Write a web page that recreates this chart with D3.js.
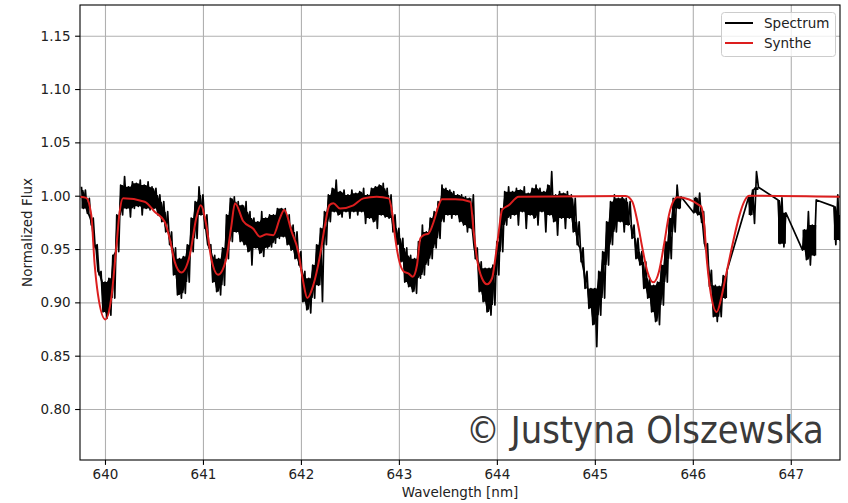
<!DOCTYPE html>
<html>
<head>
<meta charset="utf-8">
<script src="https://cdn.jsdelivr.net/npm/d3@7"></script>
<style>
  body { margin: 0; background: #fff; }
  svg text { font-family: "DejaVu Sans", sans-serif; }
</style>
</head>
<body>
<svg id="chart" width="848" height="503"></svg>
<script>
// Axis ticks and limits (wavelength in nm, normalized flux)
const xTicks = [640, 641, 642, 643, 644, 645, 646, 647];
const yTicks = [0.80, 0.85, 0.90, 0.95, 1.00, 1.05, 1.10, 1.15];
const xDomain = [639.745, 647.5025];
const yDomain = [0.7522, 1.1788];

// Observed spectrum: contiguous chunks sampled every 0.02 nm
const specStep = 0.02;
const specStart = [639.76, 646.01, 646.57, 646.87, 647.12, 647.44];
const specFlux = [
  [1.0084,0.988,1.0053,0.9835,0.9975,0.9725,0.979,0.951,0.954,0.9257,
   0.929,0.891,0.919,0.885,0.9226,0.888,0.944,0.904,0.982,0.9475,
   1.010,0.982,1.018,0.988,1.0084,0.980,1.013,0.988,1.0116,0.990,
   1.0147,0.982,1.010,0.988,1.013,0.9866,1.0084,0.988,1.007,0.982,
   1.0007,0.9756,0.9944,0.966,0.985,0.954,0.966,0.9257,0.951,0.907,
   0.941,0.904,0.943,0.9085,0.954,0.919,0.979,0.9475,0.9944,0.960,
   1.0084,0.982,1.0007,0.9694,0.982,0.951,0.954,0.919,0.944,0.910,
   0.941,0.907,0.951,0.916,0.982,0.941,0.9975,0.957,0.999,0.966,
   0.9944,0.957,0.991,0.954,0.9944,0.9475,0.985,0.935,0.979,0.951,
   0.9756,0.946,0.985,0.943,0.979,0.951,0.982,0.952,0.982,0.9554,
   0.988,0.960,0.988,0.9616,0.988,0.954,0.982,0.949,0.9725,0.941,
   0.966,0.935,0.9475,0.9006,0.929,0.893,0.9226,0.890,0.935,0.904,
   0.954,0.916,0.9694,0.9006,0.985,0.954,1.0007,0.9756,1.007,0.985,
   1.0147,0.982,1.0038,0.980,1.0053,0.985,1.0007,0.979,1.0053,0.985,
   1.0022,0.982,1.0038,0.985,1.007,0.974,1.0007,0.979,1.007,0.9756,
   1.0084,0.9694,1.010,0.982,1.0116,0.980,1.007,0.979,1.0007,0.966,
   0.982,0.954,0.9694,0.938,0.960,0.919,0.951,0.9147,0.944,0.910,
   0.941,0.9085,0.957,0.9226,0.9725,0.9257,0.966,0.935,0.979,0.941,
   0.985,0.951,0.9944,0.960,1.010,0.9756,1.007,0.982,1.0053,0.979,
   1.0038,0.982,1.0007,0.9756,1.0007,0.9725,0.999,0.966,0.9975,0.9694,
   1.0007,0.941,0.951,0.910,0.938,0.9006,0.932,0.891,0.932,0.888,
   0.935,0.8975,0.957,0.9257,0.988,0.9475,1.0038,0.9725,1.0084,0.979,
   1.0038,0.982,1.007,0.9725,1.0053,0.985,1.0084,0.9694,1.0022,0.982,
   1.007,0.979,1.010,0.9725,1.007,0.985,1.0038,0.966,1.010,0.982,
   1.0225,0.9756,1.0007,0.963,1.0038,0.979,1.0022,0.9694,1.0038,0.979,
   1.0007,0.966,0.9975,0.954,0.9756,0.938,0.951,0.913,0.929,0.8944,
   0.913,0.879,0.913,0.8584,0.929,0.888,0.9475,0.904,0.9756,0.935,
   0.9944,0.954,1.0007,0.966,0.9975,0.9756,0.999,0.966,0.9975,0.9725,
   0.9944,0.960,0.9725,0.941,0.960,0.935,0.9475,0.913,0.938,0.904,
   0.9226,0.891,0.916,0.882,0.919,0.879,0.935,0.8975,0.957,0.919,
   0.979,0.941,0.9975,0.966,1.010,0.988,0.999],
  [0.984,0.998,0.982,1.0025,0.975,0.985,0.950,0.955,0.915,0.930,
   0.8866,0.916,0.882,0.915,0.8866,0.925,0.904,0.930],
  [0.9988,0.982,1.0053,0.974,1.0225,1.008],
  [0.996,0.955,0.998,0.952,0.984],
  [0.949,0.968,0.940,0.985,0.935,0.9725,0.944,0.996],
  [0.990,0.954,1.0007,0.9585,0.982]
];

// Synthetic (SYNTHE) model spectrum
const synWave = [639.745,639.809,639.860,639.895,639.929,640.003,640.064,640.115,640.150,640.184,
  640.405,640.507,640.609,640.660,640.712,640.779,640.865,640.932,640.977,641.034,
  641.085,641.154,641.238,641.289,641.327,641.412,641.514,641.582,641.651,641.718,
  641.786,641.830,641.906,641.973,642.024,642.065,642.126,642.195,642.246,642.290,
  642.331,642.399,642.535,642.637,642.774,642.896,642.930,642.963,642.998,643.049,
  643.100,643.141,643.185,643.219,643.253,643.304,643.355,643.406,643.440,643.576,
  643.729,643.764,643.797,643.848,643.900,643.951,643.984,644.019,644.053,644.121,
  644.223,645.315,645.383,645.434,645.485,645.536,645.597,645.655,645.706,645.757,
  645.808,645.842,646.084,646.117,646.142,646.176,646.244,646.290,646.339,646.577,647.503];
const synFlux = [0.999,0.998,0.982,0.935,0.907,0.884,0.904,0.951,0.985,0.9975,
  0.9944,0.985,0.9756,0.960,0.938,0.928,0.944,0.979,0.991,0.9725,
  0.941,0.926,0.941,0.971,0.993,0.976,0.969,0.9616,0.9638,0.963,
  0.979,0.9866,0.966,0.9475,0.919,0.904,0.916,0.944,0.9725,0.991,
  0.993,0.988,0.991,0.9975,0.999,0.9975,0.985,0.960,0.941,0.929,
  0.927,0.924,0.935,0.960,0.963,0.9647,0.9756,0.991,0.9966,0.9966,
  0.9944,0.966,0.941,0.9226,0.917,0.9226,0.941,0.966,0.9866,0.991,
  0.999,0.9997,0.9944,0.976,0.951,0.929,0.9188,0.929,0.954,0.982,
  0.996,0.9985,0.990,0.9725,0.941,0.913,0.891,0.904,0.9257,1.000,0.999];

const seriesNames = ["Spectrum", "Synthe"];
const seriesColors = ["#000000", "#dc1e1e"];
const xLabel = "Wavelength [nm]";
const yLabel = "Normalized Flux";
const credit = "\u00A9 Justyna Olszewska";

// Layout
const plot = { left: 80, right: 840, top: 5, bottom: 460 };
const fontSize = 13.5;

const svg = d3.select("#chart");
const x = d3.scaleLinear().domain(xDomain).range([plot.left, plot.right]);
const y = d3.scaleLinear().domain(yDomain).range([plot.bottom, plot.top]);

svg.append("defs").append("clipPath").attr("id", "plotClip")
  .append("rect")
  .attr("x", plot.left).attr("y", plot.top)
  .attr("width", plot.right - plot.left).attr("height", plot.bottom - plot.top);

// Grid lines
const gridX = svg.append("g")
  .attr("transform", `translate(0,${plot.bottom})`)
  .call(d3.axisBottom(x).tickValues(xTicks).tickSize(-(plot.bottom - plot.top)).tickFormat(""));
const gridY = svg.append("g")
  .attr("transform", `translate(${plot.left},0)`)
  .call(d3.axisLeft(y).tickValues(yTicks).tickSize(-(plot.right - plot.left)).tickFormat(""));
[gridX, gridY].forEach(g => {
  g.select(".domain").remove();
  g.selectAll("line").attr("stroke", "#b0b0b0").attr("stroke-width", 1.1);
});

// Observed spectrum points, per chunk and joined
const chunkPoints = specFlux.map((chunk, c) =>
  chunk.map((f, i) => [specStart[c] + i * specStep, f]));
const specPoints = chunkPoints.flat();
const synPoints = synWave.map((w, i) => [w, synFlux[i]]);

const lines = svg.append("g").attr("clip-path", "url(#plotClip)");

// Solid core of the noisy trace: between the inner two of every four samples
const band = d3.area()
  .x(d => x(d.w))
  .y0(d => y(d.lo))
  .y1(d => y(d.hi));
chunkPoints.forEach(pts => {
  if (pts.length < 4) return;
  const core = pts.map((p, i) => {
    const s = Math.min(Math.max(0, i - 1), pts.length - 4);
    const win = pts.slice(s, s + 4).map(q => q[1]).sort(d3.ascending);
    return { w: p[0], lo: win[1], hi: win[2] };
  });
  lines.append("path").datum(core).attr("fill", seriesColors[0]).attr("d", band);
});

lines.append("path")
  .datum(specPoints)
  .attr("fill", "none")
  .attr("stroke", seriesColors[0])
  .attr("stroke-width", 1.7)
  .attr("stroke-linejoin", "round")
  .attr("d", d3.line().x(d => x(d[0])).y(d => y(d[1])));
lines.append("path")
  .datum(synPoints)
  .attr("fill", "none")
  .attr("stroke", seriesColors[1])
  .attr("stroke-width", 2)
  .attr("stroke-linejoin", "round")
  .attr("d", d3.line().x(d => x(d[0])).y(d => y(d[1])).curve(d3.curveMonotoneX));

// Axes with tick labels
const xAxis = svg.append("g")
  .attr("transform", `translate(0,${plot.bottom})`)
  .call(d3.axisBottom(x).tickValues(xTicks).tickSize(4.9).tickPadding(4.5).tickFormat(d3.format("d")));
const yAxis = svg.append("g")
  .attr("transform", `translate(${plot.left},0)`)
  .call(d3.axisLeft(y).tickValues(yTicks).tickSize(4.9).tickPadding(4.5).tickFormat(d3.format(".2f")));
[xAxis, yAxis].forEach(g => {
  g.select(".domain").remove();
  g.selectAll("line").attr("stroke", "#000").attr("stroke-width", 1.1);
  g.selectAll("text").attr("font-size", fontSize).attr("fill", "#222")
    .attr("font-family", "DejaVu Sans, sans-serif");
});

// Frame
svg.append("rect")
  .attr("x", plot.left).attr("y", plot.top)
  .attr("width", plot.right - plot.left).attr("height", plot.bottom - plot.top)
  .attr("fill", "none").attr("stroke", "#000").attr("stroke-width", 1.1);

// Axis titles
svg.append("text")
  .attr("x", (plot.left + plot.right) / 2).attr("y", 497)
  .attr("text-anchor", "middle").attr("font-size", fontSize).attr("fill", "#222")
  .text(xLabel);
svg.append("text")
  .attr("transform", `translate(32,${(plot.top + plot.bottom) / 2}) rotate(-90)`)
  .attr("text-anchor", "middle").attr("font-size", fontSize).attr("fill", "#222")
  .text(yLabel);

// Legend
const legend = svg.append("g");
legend.append("rect")
  .attr("x", 721.5).attr("y", 12.5).attr("width", 114).attr("height", 44).attr("rx", 3)
  .attr("fill", "#fff").attr("fill-opacity", 0.8)
  .attr("stroke", "#cccccc").attr("stroke-width", 1);
seriesNames.forEach((name, i) => {
  const cy = 23 + i * 20;
  legend.append("line")
    .attr("x1", 725).attr("x2", 753).attr("y1", cy).attr("y2", cy)
    .attr("stroke", seriesColors[i]).attr("stroke-width", 2);
  legend.append("text")
    .attr("x", 764).attr("y", cy).attr("dy", "0.35em")
    .attr("font-size", fontSize).attr("fill", "#222")
    .text(name);
});

// Credit line (slightly condensed lettering)
svg.append("text")
  .attr("transform", "translate(466,443) scale(1,1.12)")
  .attr("x", 0).attr("y", 0)
  .attr("font-family", "'Open Sans', 'Noto Sans', sans-serif")
  .attr("font-size", 33.9)
  .attr("fill", "#3a3a3a")
  .text(credit);
</script>
</body>
</html>
